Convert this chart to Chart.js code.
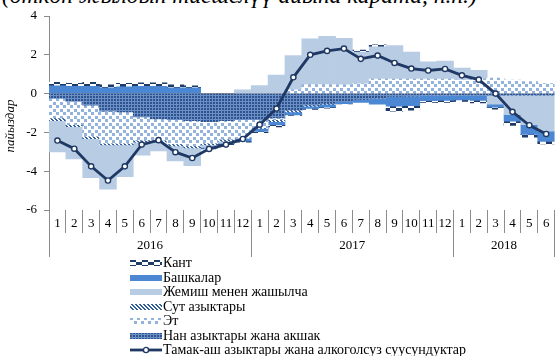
<!DOCTYPE html>
<html><head><meta charset="utf-8">
<script src="https://cdn.jsdelivr.net/npm/chart.js@4.4.1/dist/chart.umd.min.js"></script>
<style>
html,body{margin:0;padding:0;background:#fff;width:560px;height:356px;overflow:hidden;}
#wrap{position:relative;width:560px;height:356px;overflow:hidden;}
#title{position:absolute;left:2px;top:-18px;font:italic 23.5px "Liberation Serif";white-space:nowrap;color:#000;line-height:26px;}
#c{position:absolute;left:0;top:0;}
#legend{position:absolute;left:130px;top:256px;font:14px "Liberation Serif";color:#000;}
.item{height:14.5px;display:flex;align-items:center;white-space:nowrap;}
.item canvas{width:32px;height:8px;margin-right:1px;display:block;}
</style></head>
<body><div id="wrap">
<div id="title">(өткөн жылдын тиешелүү айына карата, п.п.)</div>
<canvas id="c" width="560" height="258"></canvas>
<div id="legend"></div>
</div>
<script>
// ---- data ----
const monthLabels = ['1','2','3','4','5','6','7','8','9','10','11','12',
  '1','2','3','4','5','6','7','8','9','10','11','12',
  '1','2','3','4','5','6'];
const yearLabels = ['2016','2017','2018'];
const yearLengths = [12,12,6];

const nan = [-0.25,-0.4,-0.6,-0.9,-0.95,-1.2,-1.3,-1.35,-1.4,-1.45,-1.4,-1.35,
  -1.35,-1.25,-0.85,-0.6,-0.5,-0.42,-0.3,-0.25,-0.15,-0.12,-0.1,-0.1,
  -0.1,-0.1,-0.1,-0.08,-0.08,-0.08];
const et = [-1.0,-1.2,-1.6,-1.65,-1.6,-1.2,-1.1,-1.25,-1.3,-1.1,-0.95,-0.95,
  -0.4,-0.1,0.2,0.46,0.46,0.45,0.5,0.75,0.75,0.75,0.75,0.75,
  0.7,0.75,0.8,0.7,0.62,0.52];
const sut = [-0.15,-0.1,-0.12,-0.1,-0.1,-0.1,-0.1,-0.1,-0.1,-0.1,-0.1,0,
  -0.05,-0.1,-0.1,-0.05,-0.05,0,0,0,0,0,0,0,
  0,0,0,0,0,0];
const zhemish = [-1.6,-1.67,-2.01,-2.28,-1.63,-0.68,-0.45,-0.77,-0.92,-0.12,-0.1,0.2,
  0.41,0.95,1.76,2.36,2.49,2.4,1.64,1.66,1.73,1.39,0.89,0.92,
  0.62,0.45,-0.45,-1.0,-1.52,-1.86];
const bashka = [0.4,0.38,0.38,0.3,0.35,0.38,0.38,0.3,0.3,-0.05,-0.05,-0.15,
  -0.15,-0.17,-0.15,-0.12,-0.15,-0.1,-0.15,-0.3,-0.5,-0.5,-0.27,-0.25,
  -0.22,-0.25,-0.15,-0.34,-0.5,-0.52];
const kant = [0.18,0.15,0.2,0.15,0.18,0.17,0.17,0.15,0.1,-0.03,-0.03,-0.05,
  -0.06,-0.1,-0.02,-0.05,-0.05,-0.01,0.1,0.1,-0.25,-0.23,-0.08,-0.1,
  -0.08,-0.13,-0.1,-0.22,-0.15,-0.14];
const total = [-2.42,-2.84,-3.75,-4.48,-3.75,-2.63,-2.4,-3.02,-3.32,-2.85,-2.63,-2.34,
  -1.6,-0.77,0.84,2.0,2.2,2.32,1.79,1.96,1.58,1.29,1.19,1.27,
  0.94,0.72,0.0,-0.94,-1.63,-2.08];

const names = {
  kant:'Кант', bashka:'Башкалар', zhemish:'Жемиш менен жашылча', sut:'Сут азыктары',
  et:'Эт', nan:'Нан азыктары жана акшак', total:'Тамак-аш азыктары жана алкоголсуз суусундуктар'
};

// ---- patterns ----
function tile(w,h,bg,draw){const c=document.createElement('canvas');c.width=w;c.height=h;const x=c.getContext('2d');if(bg){x.fillStyle=bg;x.fillRect(0,0,w,h);}draw(x);return c;}
const tiles = {
  nan: tile(3,3,'#6d90c4',x=>{x.fillStyle='#2d5390';x.fillRect(0,0,2,2);}),
  et: tile(7,7,'#ffffff',x=>{x.fillStyle='#93b3df';x.fillRect(0,0,3,3);x.fillRect(4,4,3,3);}),
  sut: tile(4,4,'#ffffff',x=>{x.fillStyle='#33609c';for(let i=0;i<4;i++){x.fillRect(i,i,1,1);x.fillRect((i+1)%4,i,1,1);}}),
  kant: tile(12,6,'#ffffff',x=>{x.fillStyle='#1e3a66';x.fillRect(0,0,6,3);x.fillRect(6,3,6,3);})
};
const solid = {zhemish:'#b8cce4', bashka:'#4b87d3'};
const navy = '#1f3864';

const cvs = document.getElementById('c');
const ctx = cvs.getContext('2d');
function fillFor(key, c){ return tiles[key] ? c.createPattern(tiles[key],'repeat') : solid[key]; }

const barKeys = ['nan','et','sut','zhemish','bashka','kant'];
const barData = {nan, et, sut, zhemish, bashka, kant};

const datasets = [{
  type:'line', label:names.total, data:total, stack:'total',
  borderColor:navy, borderWidth:2.8, tension:0,
  pointRadius:2.6, pointBackgroundColor:'#ffffff', pointBorderColor:navy, pointBorderWidth:1.4
}];
barKeys.forEach(k=>datasets.push({
  type:'bar', label:names[k], data:barData[k], stack:'food',
  backgroundColor:fillFor(k,ctx), borderWidth:0,
  barPercentage:1, categoryPercentage:1
}));

// year axis ticks from year lengths
const yearBounds=[0]; const yearMids=[];
yearLengths.forEach((n,i)=>{const s=yearBounds[yearBounds.length-1]; yearMids.push(s+n/2); yearBounds.push(s+n);});

const F = 'Liberation Serif';
const gray = '#8c8c8c';

new Chart(ctx, {
  data:{labels:monthLabels, datasets},
  options:{
    responsive:false, animation:false, devicePixelRatio:1,
    layout:{padding:{top:16,left:0,right:0,bottom:0}},
    plugins:{legend:{display:false}, tooltip:{enabled:false}},
    scales:{
      x:{
        type:'category', position:'bottom', offset:true, stacked:true,
        grid:{offset:true, drawOnChartArea:false, drawTicks:true, tickLength:23, color:gray, lineWidth:1},
        border:{display:false},
        ticks:{autoSkip:false, maxRotation:0, minRotation:0, padding:-17, color:'#000', font:{family:F,size:13}},
        afterFit:s=>{s.height=23;}
      },
      x2:{
        type:'linear', position:'bottom', min:0, max:yearBounds[yearBounds.length-1],
        afterBuildTicks:s=>{
          const v=[...yearBounds,...yearMids].sort((a,b)=>a-b);
          s.ticks=v.map(value=>({value}));
        },
        grid:{drawOnChartArea:false, drawTicks:true, tickLength:24, lineWidth:1,
          color:c=>yearBounds.includes(c.tick&&c.tick.value)?gray:'rgba(0,0,0,0)'},
        border:{display:false},
        ticks:{autoSkip:false, maxRotation:0, padding:-19, color:'#000', font:{family:F,size:13},
          callback:(v)=>{const i=yearMids.indexOf(v); return i>=0?yearLabels[i]:'';}},
        afterFit:s=>{s.height=25;}
      },
      y:{
        stacked:true, min:-6, max:4,
        ticks:{stepSize:2, color:'#000', padding:7, font:{family:F,size:13}},
        grid:{drawTicks:true, tickLength:5, tickColor:gray, lineWidth:1,
          color:c=>c.tick&&c.tick.value===0?gray:'rgba(0,0,0,0)'},
        border:{display:true, color:gray, width:1},
        title:{display:true, text:'пайыздар\u2003\u2003', color:'#000', font:{family:F,size:13,style:'italic'}, padding:{top:3,bottom:0}},
        afterFit:s=>{s.width=49;}
      }
    }
  }
});

// ---- HTML legend ----
const legend = document.getElementById('legend');
const legendOrder = ['kant','bashka','zhemish','sut','et','nan','total'];
legendOrder.forEach(k=>{
  const row=document.createElement('div'); row.className='item';
  const sw=document.createElement('canvas'); sw.width=32; sw.height=8;
  const sx=sw.getContext('2d');
  if(k==='total'){
    sx.strokeStyle=navy; sx.lineWidth=2.8; sx.beginPath(); sx.moveTo(0,4); sx.lineTo(32,4); sx.stroke();
    sx.fillStyle='#fff'; sx.lineWidth=1.4; sx.beginPath(); sx.arc(16,4,2.6,0,Math.PI*2); sx.fill(); sx.stroke();
  } else {
    sx.fillStyle=fillFor(k,sx); sx.fillRect(0,1,32,6);
  }
  const t=document.createElement('span'); t.textContent=names[k];
  row.appendChild(sw); row.appendChild(t); legend.appendChild(row);
});
</script>
</body></html>
